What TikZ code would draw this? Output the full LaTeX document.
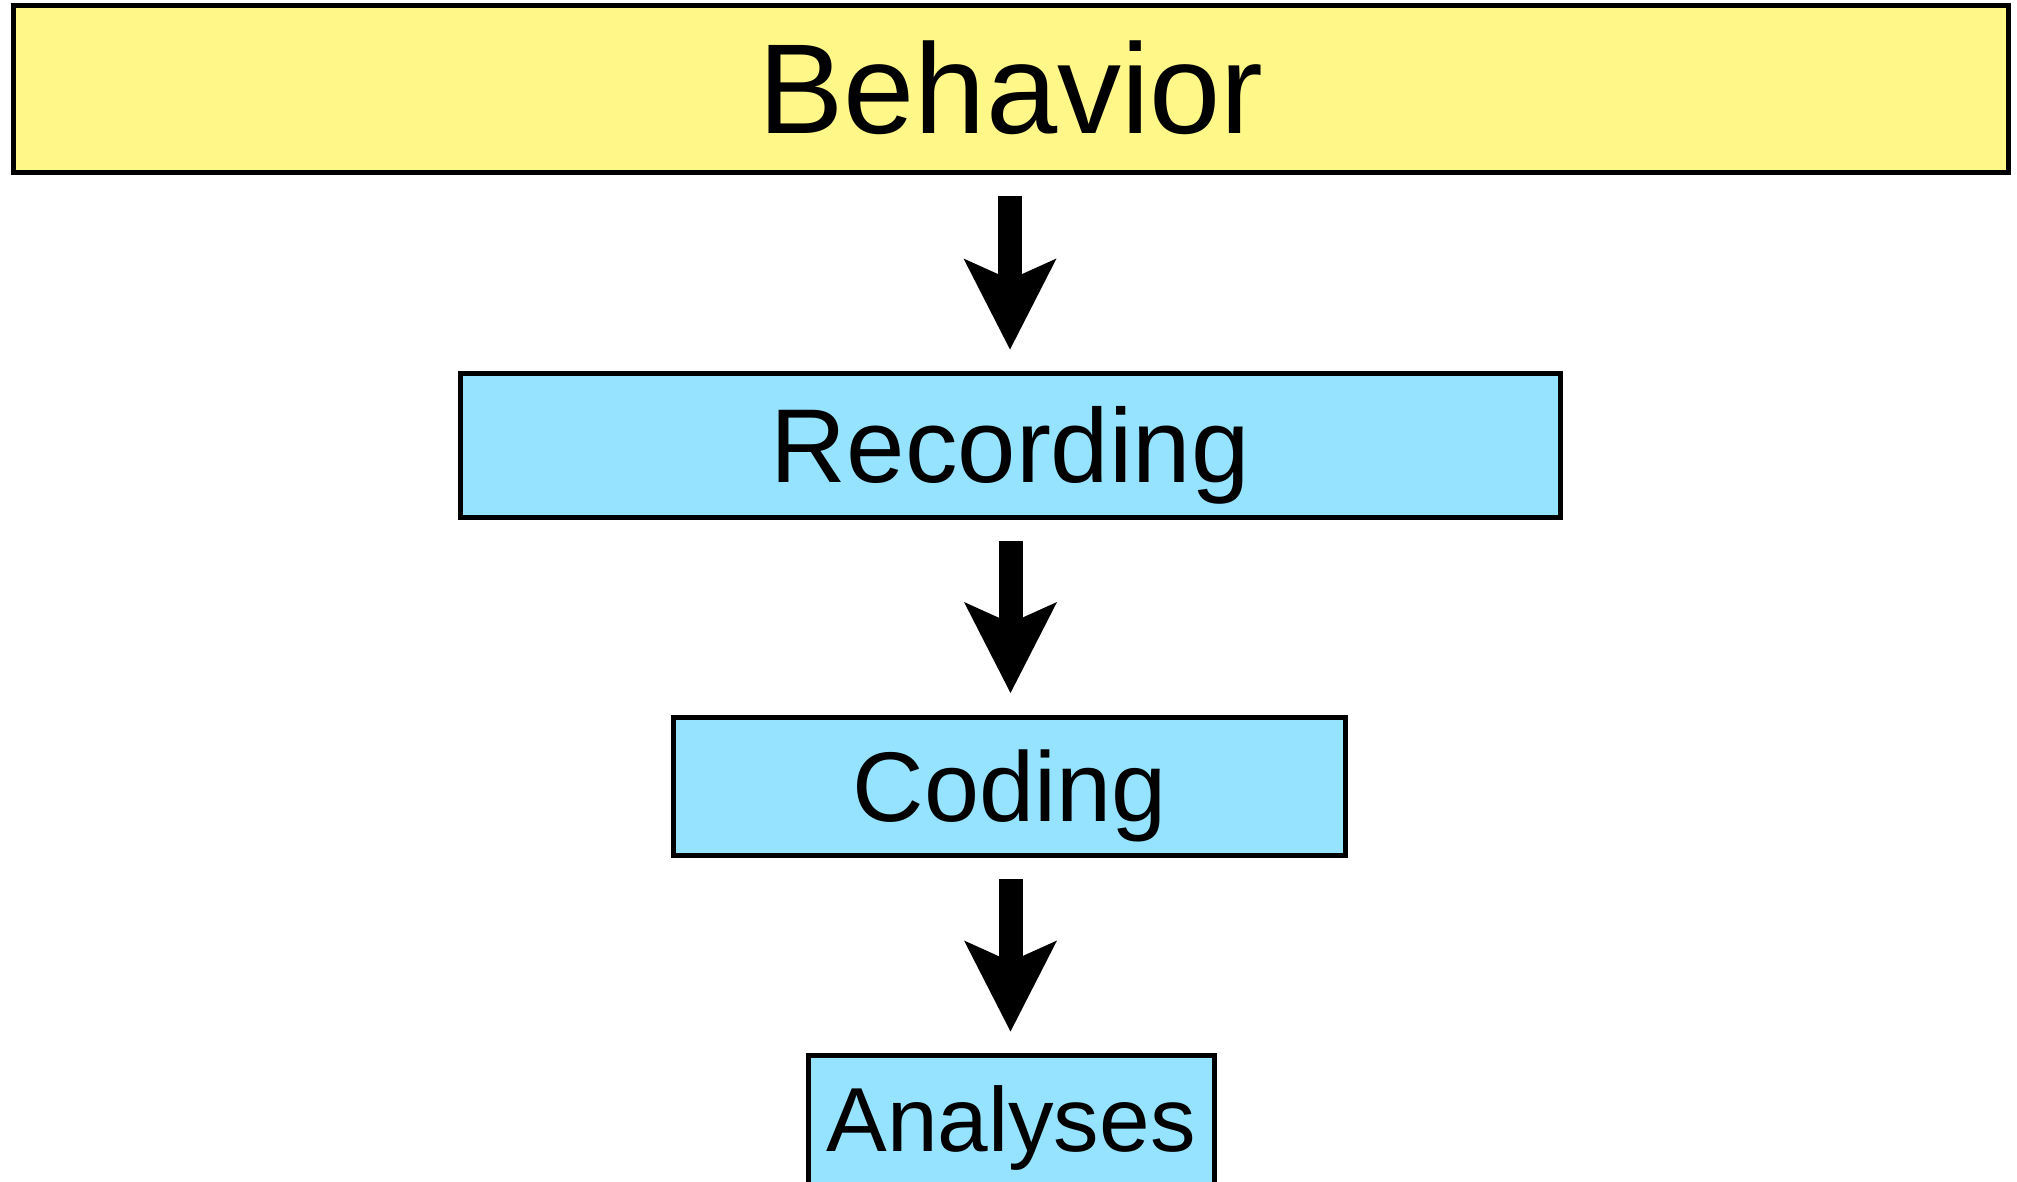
\documentclass[tikz,border=0pt]{standalone}
\usepackage{fontspec}
\setmainfont{Liberation Sans}
\usetikzlibrary{arrows.meta}
\definecolor{stageyellow}{HTML}{FFF788}
\definecolor{stageblue}{HTML}{95E3FE}
\tikzset{
  stagebox/.style={draw=black, line width=5pt, rectangle, outer sep=0pt,
    inner sep=0pt, text depth=0pt, align=center},
  flowarrow/.style={line width=24pt, draw=black,
    -{Stealth[length=91pt, width=93pt, inset=21pt, line width=0pt]},
    shorten <=24pt, shorten >=24pt}
}
\begin{document}
\begin{tikzpicture}[x=1pt, y=-1pt]
  \clip (0,0) rectangle (2017,1181);
  \fill[white] (0,0) rectangle (2017,1181);

  % the four processing stages
  \node[stagebox, fill=stageyellow, minimum width=1995pt, minimum height=166.5pt,
        font=\fontsize{128pt}{132pt}\selectfont, text height=90pt]
        (behavior) at (1011,88.75) {Behavior};
  \node[stagebox, fill=stageblue, minimum width=1099.5pt, minimum height=143.5pt,
        font=\fontsize{105pt}{110pt}\selectfont, text height=74pt]
        (recording) at (1010.25,445.25) {Recording};
  \node[stagebox, fill=stageblue, minimum width=671.5pt, minimum height=138pt,
        font=\fontsize{99pt}{104pt}\selectfont, text height=70pt]
        (coding) at (1009.5,786) {Coding};
  \node[stagebox, fill=stageblue, minimum width=406pt, minimum height=140pt,
        font=\fontsize{91pt}{96pt}\selectfont, text height=65pt, text depth=13pt]
        (analyses) at (1011,1125.5) {Analyses};

  % block arrows between stages
  \draw[flowarrow] (behavior.south -| 1010,0) -- (recording.north -| 1010,0);
  \draw[flowarrow] (recording.south -| 1010.5,0) -- (coding.north -| 1010.5,0);
  \draw[flowarrow] (coding.south -| 1010.5,0) -- (analyses.north -| 1010.5,0);
\end{tikzpicture}
\end{document}
